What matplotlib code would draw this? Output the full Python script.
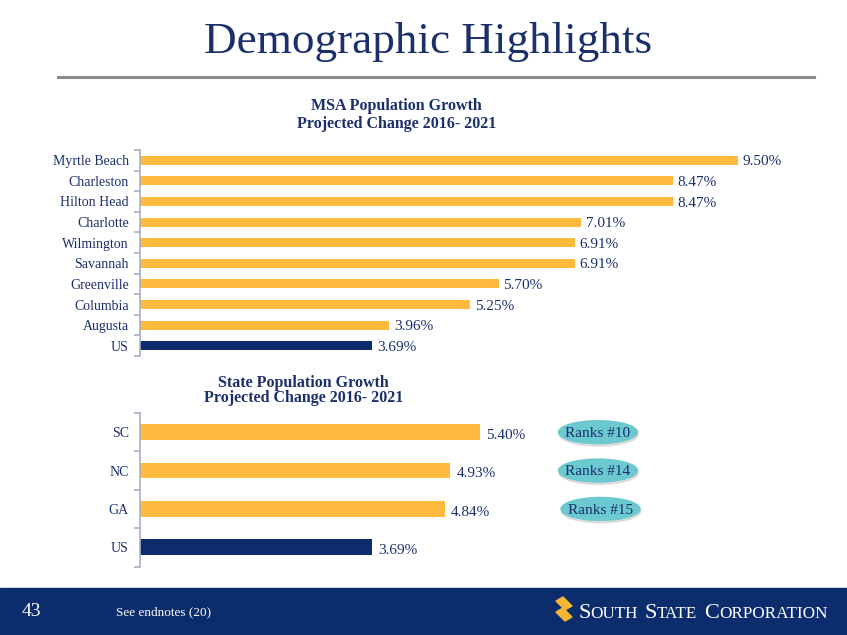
import numpy as np
import matplotlib
matplotlib.use('Agg')
import matplotlib.pyplot as plt
from matplotlib.patches import Ellipse, Rectangle, Polygon
from matplotlib.lines import Line2D

W, H = 847, 635

# data
msa_names = ['Myrtle Beach', 'Charleston', 'Hilton Head', 'Charlotte', 'Wilmington',
             'Savannah', 'Greenville', 'Columbia', 'Augusta', 'US']
msa_values = [9.50, 8.47, 8.47, 7.01, 6.91, 6.91, 5.70, 5.25, 3.96, 3.69]
state_names = ['SC', 'NC', 'GA', 'US']
state_values = [5.40, 4.93, 4.84, 3.69]
state_ranks = ['Ranks #10', 'Ranks #14', 'Ranks #15']

GOLD = '#fdba3e'
NAVY = '#0d2c6c'
TEXT = '#1b2f6b'
AXIS = '#a9afc2'
TEAL = '#6cc9d0'
FOOT = '#0c2d6d'

plt.rcParams['font.family'] = ['Liberation Serif', 'DejaVu Serif']

fig = plt.figure(figsize=(8.47, 6.35), dpi=100)


def box(x0, y0, x1, y1):
    # pixel box (top-left origin) -> figure rect
    return [x0 / W, 1 - y1 / H, (x1 - x0) / W, (y1 - y0) / H]


def fx(x):
    return x / W


def fy(y):
    return 1 - y / H


def bar_panel(rect, names, values, bar_h, offset):
    ax = fig.add_axes(rect)
    n = len(names)
    pos = np.arange(n)
    colors = [NAVY if nm == 'US' else GOLD for nm in names]
    ax.barh(pos, values, height=bar_h, color=colors)
    ax.set_xlim(0, 10)
    ax.set_ylim(n - 0.5, -0.5)
    for s in ['top', 'right', 'bottom']:
        ax.spines[s].set_visible(False)
    ax.spines['left'].set_color(AXIS)
    ax.spines['left'].set_linewidth(1.2)
    ax.set_xticks([])
    ax.set_yticks(pos)
    ax.set_yticklabels(names, fontsize=10, color=TEXT)
    ax.set_yticks(np.arange(n + 1) - 0.5, minor=True)
    ax.tick_params(axis='y', which='major', length=0, pad=8)
    ax.tick_params(axis='y', which='minor', length=4, color=AXIS, width=1.2)
    ax.patch.set_alpha(0)
    for i, v in enumerate(values):
        ax.text(v + offset, i + 0.08, f'{v:.2f}%', va='center', ha='left',
                fontsize=11, color=TEXT)
    return ax


ax1 = bar_panel(box(140, 150, 769.5, 356), msa_names, msa_values, 0.44, 0.07)
ax2 = bar_panel(box(140, 413, 769.5, 566.5), state_names, state_values, 0.41, 0.1)

# rank bubbles
bubble_x = [598, 598, 600.5]
for i, (lab, bx) in enumerate(zip(state_ranks, bubble_x)):
    cx = (bx - 140) / 62.95
    sh = Ellipse((cx + 0.01, i + 0.06), 79 / 62.95, 23 / 38.4, color='#b0b0b0',
                 alpha=0.35, zorder=2, clip_on=False)
    ax2.add_patch(sh)
    el = Ellipse((cx, i), 79 / 62.95, 23 / 38.4, color=TEAL, zorder=3, clip_on=False)
    ax2.add_patch(el)
    ax2.text(cx, i + 0.03, lab, ha='center', va='center', fontsize=11,
             color=TEXT, zorder=4)

# title + rule
fig.text(fx(428.5), fy(53), 'Demographic Highlights', ha='center', va='baseline',
         fontsize=32.5, color=TEXT)
fig.add_artist(Line2D([fx(58), fx(814)], [fy(76.5), fy(76.5)], color='#8a8a8a',
                      lw=2.2, transform=fig.transFigure))

# panel headings
fig.text(fx(396), fy(106), 'MSA Population Growth', ha='center', va='center',
         fontsize=11.5, fontweight='bold', color=TEXT)
fig.text(fx(397), fy(124), 'Projected Change 2016- 2021', ha='center', va='center',
         fontsize=11.5, fontweight='bold', color=TEXT)
fig.text(fx(303), fy(383), 'State Population Growth', ha='center', va='center',
         fontsize=11.5, fontweight='bold', color=TEXT)
fig.text(fx(303.5), fy(398), 'Projected Change 2016- 2021', ha='center', va='center',
         fontsize=11.5, fontweight='bold', color=TEXT)

# footer band
fig.add_artist(Rectangle((0, 0), 1, fy(588), color=FOOT, transform=fig.transFigure,
                         zorder=0))
fig.text(fx(22), fy(612), '43', ha='left', va='center', fontsize=14, color='white')
fig.text(fx(116), fy(612), 'See endnotes (20)', ha='left', va='center',
         fontsize=9.5, color='white')

# logo mark
for pts in ([(556, 601), (563, 597), (572, 606), (565, 610)],
            [(556, 612), (563, 608), (572, 617), (565, 621)]):
    fig.add_artist(Polygon([(fx(a), fy(b)) for a, b in pts], closed=True,
                           color='#f6b533', transform=fig.transFigure))

# logo text in small caps
renderer = fig.canvas.get_renderer()
pieces = [('S', 16), ('OUTH', 12.3), (' ', 12.3), ('S', 16), ('TATE', 12.3), (' ', 12.3),
          ('C', 16), ('ORPORATION', 12.3)]
x = 578
for txt, sz in pieces:
    if txt == ' ':
        x += 6
        continue
    t = fig.text(fx(x), fy(618), txt, ha='left', va='baseline', fontsize=sz,
                 color='white')
    bb = t.get_window_extent(renderer)
    x += bb.width + 0.3

fig.savefig('out.png', dpi=100)
